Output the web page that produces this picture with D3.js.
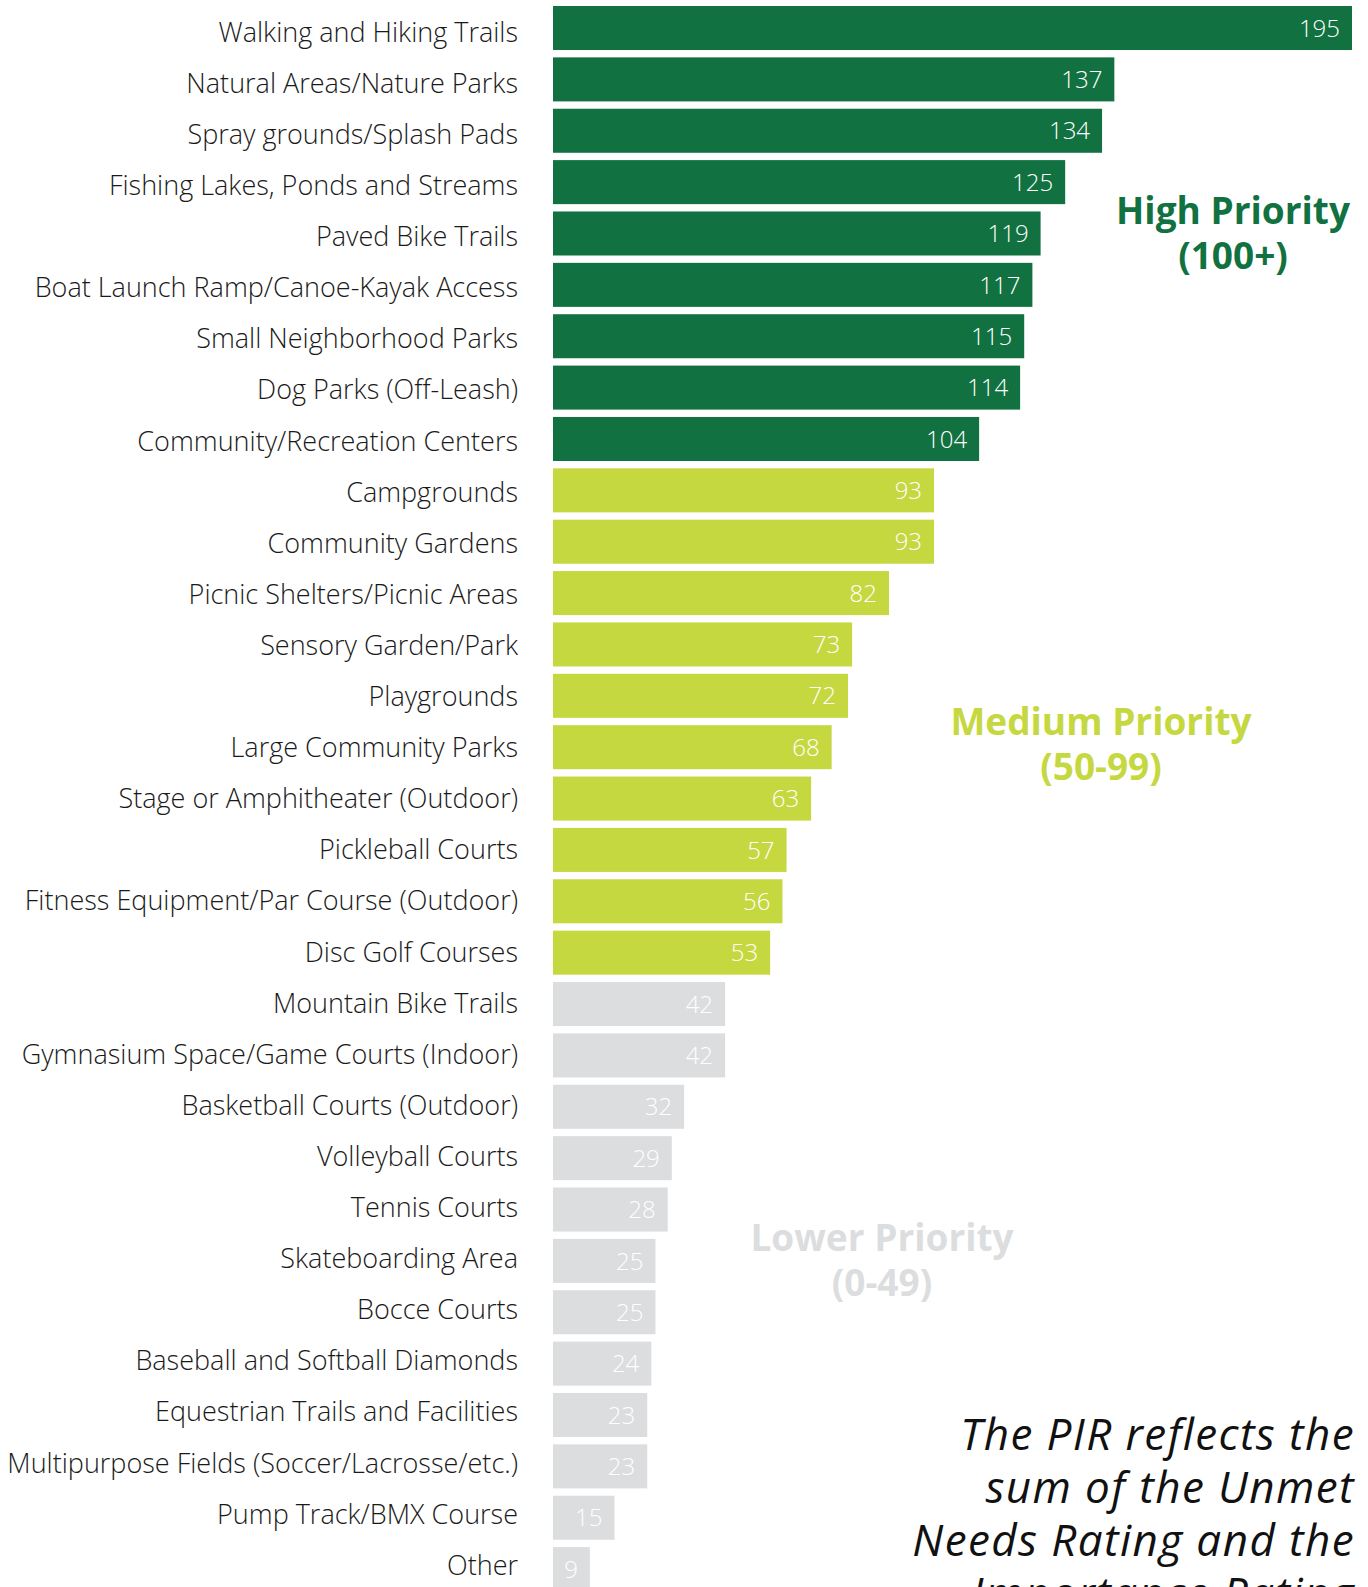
<!DOCTYPE html>
<html>
<head>
<meta charset="utf-8">
<script src="https://cdn.jsdelivr.net/npm/d3@7"></script>
<style>
  body { margin: 0; background: #fff; }
  svg { display: block; font-family: "Open Sans", Lato, sans-serif; }
</style>
</head>
<body>
<script>
// categories and PIR scores
var categories = [
  "Walking and Hiking Trails", "Natural Areas/Nature Parks", "Spray grounds/Splash Pads",
  "Fishing Lakes, Ponds and Streams", "Paved Bike Trails", "Boat Launch Ramp/Canoe-Kayak Access",
  "Small Neighborhood Parks", "Dog Parks (Off-Leash)", "Community/Recreation Centers",
  "Campgrounds", "Community Gardens", "Picnic Shelters/Picnic Areas", "Sensory Garden/Park",
  "Playgrounds", "Large Community Parks", "Stage or Amphitheater (Outdoor)", "Pickleball Courts",
  "Fitness Equipment/Par Course (Outdoor)", "Disc Golf Courses", "Mountain Bike Trails",
  "Gymnasium Space/Game Courts (Indoor)", "Basketball Courts (Outdoor)", "Volleyball Courts",
  "Tennis Courts", "Skateboarding Area", "Bocce Courts", "Baseball and Softball Diamonds",
  "Equestrian Trails and Facilities", "Multipurpose Fields (Soccer/Lacrosse/etc.)",
  "Pump Track/BMX Course", "Other"
]
var scores = [195, 137, 134, 125, 119, 117, 115, 114, 104, 93, 93, 82, 73, 72, 68, 63, 57, 56, 53,
  42, 42, 32, 29, 28, 25, 25, 24, 23, 23, 15, 9]

// priority tiers
var tierNames = ["High Priority", "Medium Priority", "Lower Priority"]
var tierRanges = ["(100+)", "(50-99)", "(0-49)"]
var tierMin = [100, 50, 0]
var tierColors = ["#127140", "#c5d83f", "#dcdddf"]

var note = ["The PIR reflects the", "sum of the Unmet", "Needs Rating and the", "Importance Rating"]

var width = 1368, height = 1587
var left = 553, right = 1352
var step = 51.37, pad = 0.143

var data = categories.map(function(c, i) { return {name: c, value: scores[i]} })

function tierOf(v) {
  for (var t = 0; t < tierMin.length; t++) if (v >= tierMin[t]) return t
  return tierMin.length - 1
}

var svg = d3.select("body").append("svg")
    .attr("width", width)
    .attr("height", height)

var x = d3.scaleLinear().domain([0, d3.max(scores)]).range([left, right])

var y = d3.scaleBand()
    .domain(categories)
    .range([6, 6 + step * (categories.length - pad)])
    .paddingInner(pad)
    .paddingOuter(0)

// category labels sit on a slightly tighter rhythm than the bars
var yLabel = d3.scalePoint()
    .domain(categories)
    .range([32, 1565])

svg.selectAll("rect.bar")
    .data(data)
  .enter().append("rect")
    .attr("class", "bar")
    .attr("x", x(0))
    .attr("y", function(d) { return y(d.name) })
    .attr("width", function(d) { return x(d.value) - x(0) })
    .attr("height", y.bandwidth())
    .attr("fill", function(d) { return tierColors[tierOf(d.value)] })

svg.selectAll("text.cat")
    .data(data)
  .enter().append("text")
    .attr("class", "cat")
    .attr("x", 518)
    .attr("y", function(d) { return yLabel(d.name) })
    .attr("dy", "0.36em")
    .attr("text-anchor", "end")
    .attr("font-size", 27)
    .attr("font-weight", 300)
    .attr("fill", "#1a1a1a")
    .text(function(d) { return d.name })

svg.selectAll("text.val")
    .data(data)
  .enter().append("text")
    .attr("class", "val")
    .attr("x", function(d) { return x(d.value) - 12 })
    .attr("y", function(d) { return y(d.name) + y.bandwidth() / 2 })
    .attr("dy", "0.36em")
    .attr("text-anchor", "end")
    .attr("font-size", 24)
    .attr("font-weight", 300)
    .attr("fill", "#fff")
    .text(function(d) { return d.value })

// tier legends, two lines each
var legendPos = [[1233, 224], [1101, 735], [882, 1251]]
tierNames.forEach(function(t, i) {
  [t, tierRanges[i]].forEach(function(line, j) {
    svg.append("text")
        .attr("x", legendPos[i][0])
        .attr("y", legendPos[i][1] + j * 45)
        .attr("text-anchor", "middle")
        .attr("font-size", 37)
        .attr("font-weight", "bold")
        .attr("fill", tierColors[i])
        .text(line)
  })
})

// note at bottom right
svg.append("g").selectAll("text")
    .data(note)
  .enter().append("text")
    .attr("x", 1355)
    .attr("y", function(d, i) { return 1450 + i * 53 })
    .attr("text-anchor", "end")
    .attr("font-size", 44)
    .attr("font-style", "italic")
    .attr("letter-spacing", 1.4)
    .attr("fill", "#111")
    .text(function(d) { return d })
</script>
</body>
</html>
